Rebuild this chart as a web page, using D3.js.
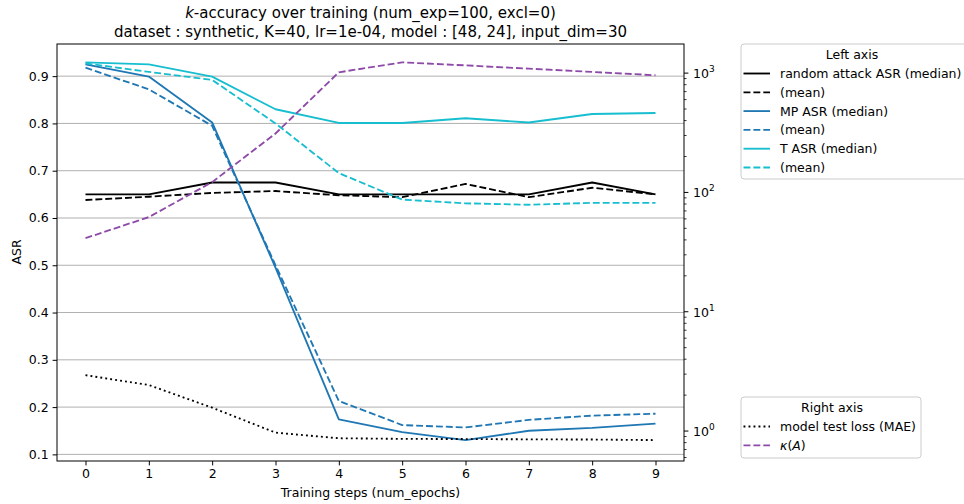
<!DOCTYPE html>
<html><head><meta charset="utf-8">
<script src="https://cdn.jsdelivr.net/npm/d3@7"></script>
<style>body{margin:0;background:#fff}svg{display:block;font-family:"DejaVu Sans",sans-serif}</style>
</head><body><svg id="c" width="964" height="504"></svg>
<script>
const epochs = [0,1,2,3,4,5,6,7,8,9];
const randomMedian = [0.65,0.65,0.675,0.675,0.65,0.65,0.65,0.65,0.675,0.65];
const randomMean = [0.638,0.645,0.653,0.657,0.648,0.644,0.672,0.644,0.664,0.65];
const mpMedian = [0.925,0.899,0.802,0.495,0.174,0.147,0.13,0.15,0.156,0.165];
const mpMean = [0.918,0.872,0.795,0.50,0.213,0.162,0.157,0.173,0.182,0.186];
const tMedian = [0.929,0.925,0.899,0.830,0.801,0.801,0.811,0.802,0.820,0.822];
const tMean = [0.927,0.909,0.892,0.80,0.695,0.639,0.631,0.628,0.632,0.632];
const testLoss = [2.94,2.43,1.57,0.97,0.87,0.86,0.857,0.852,0.849,0.84];
const kappa = [41.4,62.1,122,312,1016,1231,1161,1090,1023,959];
const leftTicks = [0.1,0.2,0.3,0.4,0.5,0.6,0.7,0.8,0.9];
const rightTicks = [1,10,100,1000];
const titleLine1 = ["k", "-accuracy over training (num_exp=100, excl=0)"];
const titleLine2 = "dataset : synthetic, K=40, lr=1e-04, model : [48, 24], input_dim=30";

const svg = d3.select("#c");
const L = 57, R = 684, T = 44, B = 461;
const x = d3.scaleLinear().domain([-0.45, 9.45]).range([L, R]);
const yL = d3.scaleLinear().domain([0.086, 0.968]).range([B, T]);
const yR = d3.scaleLog().domain([Math.pow(10,-0.251), Math.pow(10,3.244)]).range([B, T]);

const FS = 12.5;
const LW = 1.85;
const dash = "6.9,3";
const dot = "1.9,3.1";
const C = {black:"#000", mp:"#1f77b4", t:"#17becf", k:"#8e4aa8"};

// gridlines
svg.append("g").selectAll("line").data(leftTicks).join("line")
  .attr("x1", L).attr("x2", R).attr("y1", d=>yL(d)).attr("y2", d=>yL(d))
  .attr("stroke", "#b0b0b0").attr("stroke-width", 1);

const clip = svg.append("clipPath").attr("id","clip").append("rect")
  .attr("x", L).attr("y", T).attr("width", R-L).attr("height", B-T);

function drawLine(vals, scale, color, da) {
  const line = d3.line().x((d,i)=>x(epochs[i])).y(d=>scale(d));
  svg.append("path").datum(vals).attr("d", line).attr("fill","none")
    .attr("stroke", color).attr("stroke-width", LW).attr("clip-path","url(#clip)")
    .attr("stroke-dasharray", da || null).attr("stroke-linejoin","round");
}
drawLine(randomMedian, yL, C.black);
drawLine(randomMean, yL, C.black, dash);
drawLine(mpMedian, yL, C.mp);
drawLine(mpMean, yL, C.mp, dash);
drawLine(tMedian, yL, C.t);
drawLine(tMean, yL, C.t, dash);
drawLine(testLoss, yR, C.black, dot);
drawLine(kappa, yR, C.k, dash);

// spines
svg.append("rect").attr("x", L).attr("y", T).attr("width", R-L).attr("height", B-T)
  .attr("fill","none").attr("stroke","#000").attr("stroke-width",1);

// x axis
const xAxis = d3.axisBottom(x).tickValues(epochs).tickSize(4.4).tickPadding(4);
const gx = svg.append("g").attr("transform", `translate(0,${B})`).call(xAxis);
gx.select(".domain").remove();
gx.selectAll("text").attr("font-size", FS).attr("font-family","DejaVu Sans").attr("fill","#000");

// left axis
const yAxis = d3.axisLeft(yL).tickValues(leftTicks).tickFormat(d3.format(".1f")).tickSize(4.4).tickPadding(4);
const gy = svg.append("g").attr("transform", `translate(${L},0)`).call(yAxis);
gy.select(".domain").remove();
gy.selectAll("text").attr("font-size", FS).attr("font-family","DejaVu Sans").attr("fill","#000");

// right axis (log)
const dom = yR.domain();
const minor = [];
for (let e = -1; e <= 3; e++) for (let m = 2; m <= 9; m++) {
  const v = m * Math.pow(10, e);
  if (v >= dom[0] && v <= dom[1]) minor.push(v);
}
const gr = svg.append("g");
gr.selectAll("line.minor").data(minor).join("line").attr("class","minor")
  .attr("x1", R).attr("x2", R+2.5).attr("y1", d=>yR(d)).attr("y2", d=>yR(d))
  .attr("stroke","#000").attr("stroke-width",0.8);
gr.selectAll("line.major").data(rightTicks).join("line").attr("class","major")
  .attr("x1", R).attr("x2", R+4.4).attr("y1", d=>yR(d)).attr("y2", d=>yR(d))
  .attr("stroke","#000").attr("stroke-width",1);
const rt = gr.selectAll("text").data(rightTicks).join("text")
  .attr("x", R+9).attr("y", d=>yR(d)+5).attr("font-size", FS).attr("fill","#000");
rt.append("tspan").text("10");
rt.append("tspan").attr("dy", -6).attr("font-size", 9).text(d=>Math.round(Math.log10(d)));

// axis labels
svg.append("text").attr("x", 370.5).attr("y", 497).attr("text-anchor","middle")
  .attr("font-size", FS).text("Training steps (num_epochs)");
svg.append("text").attr("transform","translate(21,252) rotate(-90)").attr("text-anchor","middle")
  .attr("font-size", FS).text("ASR");

// title
const t1 = svg.append("text").attr("x", 370.5).attr("y", 18).attr("text-anchor","middle").attr("font-size", 15);
t1.append("tspan").attr("font-style","italic").text(titleLine1[0]);
t1.append("tspan").text(titleLine1[1]);
svg.append("text").attr("x", 370.5).attr("y", 37).attr("text-anchor","middle").attr("font-size", 15).text(titleLine2);

// legends
function legend(x0, y0, w, h, title, items) {
  const g = svg.append("g");
  g.append("rect").attr("x", x0).attr("y", y0).attr("width", w).attr("height", h).attr("rx", 3)
    .attr("fill","#fff").attr("fill-opacity",0.8).attr("stroke","#cccccc").attr("stroke-width",1);
  g.append("text").attr("x", x0 + (w > 200 ? 111 : 91)).attr("y", y0+14.5).attr("text-anchor","middle")
    .attr("font-size", FS).text(title);
  items.forEach((it, i) => {
    const yy = y0 + 29.5 + i*18.8;
    g.append("line").attr("x1", x0+2.5).attr("x2", x0+29).attr("y1", yy).attr("y2", yy)
      .attr("stroke", it.color).attr("stroke-width", LW).attr("stroke-dasharray", it.da || null);
    const tx = g.append("text").attr("x", x0+39).attr("y", yy+4.5).attr("font-size", FS);
    if (it.math) { tx.append("tspan").attr("font-style","italic").text("κ");
      tx.append("tspan").text("("); tx.append("tspan").attr("font-style","italic").text("A"); tx.append("tspan").text(")"); }
    else tx.text(it.label);
  });
}
legend(741, 44, 226, 135, "Left axis", [
  {label:"random attack ASR (median)", color:C.black},
  {label:"(mean)", color:C.black, da:dash},
  {label:"MP ASR (median)", color:C.mp},
  {label:"(mean)", color:C.mp, da:dash},
  {label:"T ASR (median)", color:C.t},
  {label:"(mean)", color:C.t, da:dash}
]);
legend(741, 397, 180, 61, "Right axis", [
  {label:"model test loss (MAE)", color:C.black, da:dot},
  {math:true, color:C.k, da:dash}
]);
</script></body></html>
